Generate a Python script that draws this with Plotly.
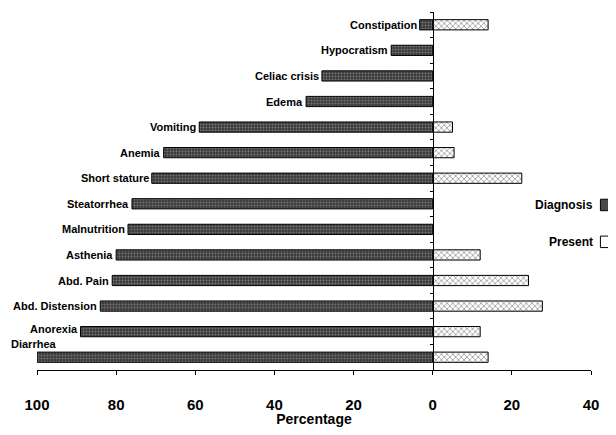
import plotly.graph_objects as go

categories = ["Diarrhea", "Anorexia", "Abd. Distension", "Abd. Pain", "Asthenia",
              "Malnutrition", "Steatorrhea", "Short stature", "Anemia", "Vomiting",
              "Edema", "Celiac crisis", "Hypocratism", "Constipation"]
diagnosis = [100, 89, 84, 81, 80, 77, 76, 71, 68, 59, 32, 28, 10.5, 3.3]
present = [14, 12, 27.7, 24.2, 12, 0, 0, 22.5, 5.4, 5, 0, 0, 0, 14]
tick_vals = [-100, -80, -60, -40, -20, 0, 20, 40]
tick_text = ["100", "80", "60", "40", "20", "0", "20", "40"]

x_min, x_max = -100, 40
FONT = "Arial, Liberation Sans, sans-serif"

fig = go.Figure()
fig.add_trace(go.Bar(
    y=categories, x=[-v for v in diagnosis], orientation="h", name="Diagnosis",
    marker=dict(color="#3a3a3a", line=dict(color="black", width=1),
                pattern=dict(shape=".", fgcolor="#b0b0b0", size=3, solidity=0.35)),
    showlegend=False,
))
fig.add_trace(go.Bar(
    y=categories, x=[v if v > 0 else None for v in present], orientation="h", name="Present",
    marker=dict(color="white", line=dict(color="black", width=1),
                pattern=dict(shape="x", fgcolor="black", bgcolor="white", size=4, solidity=0.3)),
    showlegend=False,
))

# category labels to the left of each diagnosis bar
for c, v in zip(categories, diagnosis):
    if c == "Diarrhea":
        fig.add_annotation(x=-v, y=c, text="<b>%s</b>" % c, showarrow=False,
                           xanchor="center", yanchor="middle", xshift=-3, yshift=13,
                           font=dict(family=FONT, size=11, color="black"))
    else:
        fig.add_annotation(x=-v, y=c, text="<b>%s</b>" % c, showarrow=False,
                           xanchor="right", yanchor="middle", xshift=-1,
                           yshift=3 if c == "Anorexia" else 0,
                           font=dict(family=FONT, size=11, color="black"))

# legend (text then swatch at the right edge)
legend_items = [("Diagnosis", 0.461, "#4a4a4a"), ("Present", 0.358, "white")]
for name, yp, col in legend_items:
    fig.add_annotation(x=1.008, y=yp, xref="paper", yref="paper", text="<b>%s</b>" % name,
                       showarrow=False, xanchor="right", yanchor="middle",
                       font=dict(family=FONT, size=12, color="black"))
    fig.add_shape(type="rect", xref="paper", yref="paper", x0=1.017, x1=1.045,
                  y0=yp - 0.016, y1=yp + 0.016, fillcolor=col,
                  line=dict(color="black", width=1), layer="above")

# page body has an 8px margin; keep the figure small enough to avoid any scrollbars
fig.update_layout(
    width=600, height=419,
    margin=dict(l=28.5, r=17, t=4, b=44),
    paper_bgcolor="white", plot_bgcolor="white",
    barmode="relative", bargap=0.6,
    font=dict(family=FONT, color="black"),
    xaxis=dict(range=[x_min, x_max], tickvals=tick_vals, ticktext=tick_text,
               showline=True, linecolor="black", linewidth=1, ticks="outside", ticklen=4,
               tickcolor="black", showgrid=False, zeroline=False,
               tickfont=dict(family=FONT, size=15, color="black", weight="bold"),
               ticklabelstandoff=17,
               title=dict(text="<b>Percentage</b>", font=dict(family=FONT, size=14), standoff=0)),
    yaxis=dict(anchor="free", position=(0 - x_min) / (x_max - x_min),
               showline=True, linecolor="black", linewidth=1, ticks="outside", ticklen=3,
               tickcolor="black", tickson="boundaries", showticklabels=False, showgrid=False,
               categoryorder="array", categoryarray=categories),
)

fig.write_html("out.html")
